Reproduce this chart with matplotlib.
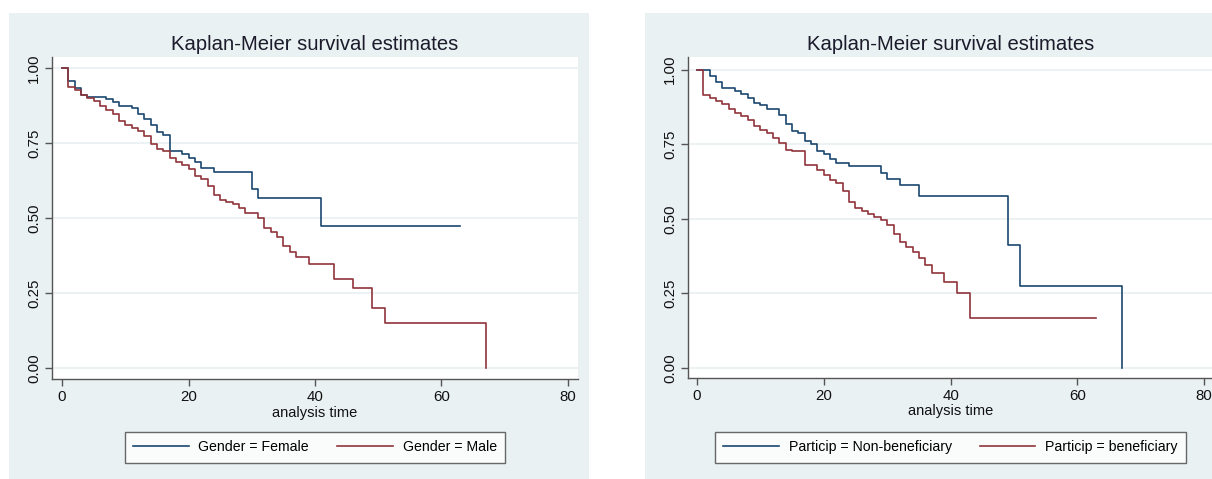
import matplotlib.pyplot as plt
from matplotlib.patches import Rectangle

# Gender panel
fem_t = [0, 1, 2, 3, 4, 7, 8, 9, 11, 12, 13, 14, 15, 16, 17, 19, 20, 21, 22, 24, 30, 31, 41, 63]
fem_s = [1.0, 0.957, 0.935, 0.912, 0.904, 0.897, 0.886, 0.875, 0.866, 0.846, 0.829, 0.81,
         0.788, 0.777, 0.724, 0.713, 0.70, 0.686, 0.668, 0.653, 0.597, 0.569, 0.475, 0.475]
male_t = [0, 1, 2, 3, 4, 5, 6, 7, 8, 9, 10, 11, 12, 13, 14, 15, 16, 17, 18, 19, 20, 21, 22,
          23, 24, 25, 26, 27, 28, 29, 31, 32, 33, 34, 35, 36, 37, 39, 43, 46, 49, 51, 67]
male_s = [1.0, 0.936, 0.928, 0.912, 0.902, 0.89, 0.875, 0.862, 0.847, 0.825, 0.81, 0.799,
          0.79, 0.774, 0.746, 0.73, 0.724, 0.70, 0.689, 0.678, 0.664, 0.64, 0.632, 0.606,
          0.578, 0.561, 0.553, 0.546, 0.533, 0.518, 0.50, 0.468, 0.453, 0.438, 0.407, 0.389,
          0.37, 0.348, 0.298, 0.267, 0.203, 0.151, 0.0]

# Participation panel
nonb_t = [0, 2, 3, 4, 6, 7, 8, 9, 10, 11, 13, 14, 15, 16, 17, 18, 19, 20, 21, 22, 24, 29,
          30, 32, 35, 49, 51, 67]
nonb_s = [1.0, 0.979, 0.958, 0.938, 0.928, 0.917, 0.906, 0.889, 0.88, 0.869, 0.847, 0.817,
          0.794, 0.787, 0.76, 0.75, 0.727, 0.716, 0.699, 0.688, 0.676, 0.655, 0.634, 0.612,
          0.578, 0.413, 0.274, 0.0]
ben_t = [0, 1, 2, 3, 4, 5, 6, 7, 8, 9, 10, 11, 12, 13, 14, 15, 17, 19, 20, 21, 22, 23, 24,
         25, 26, 27, 28, 29, 30, 31, 32, 33, 34, 35, 36, 37, 39, 41, 43, 63]
ben_s = [1.0, 0.916, 0.906, 0.895, 0.883, 0.869, 0.854, 0.844, 0.832, 0.81, 0.799, 0.788,
         0.771, 0.754, 0.731, 0.726, 0.679, 0.665, 0.648, 0.629, 0.62, 0.592, 0.556, 0.536,
         0.526, 0.517, 0.506, 0.497, 0.478, 0.45, 0.423, 0.405, 0.39, 0.369, 0.346, 0.318,
         0.287, 0.25, 0.168, 0.168]

x_ticks = [0, 20, 40, 60, 80]
y_ticks = [0.0, 0.25, 0.5, 0.75, 1.0]
y_labels = ['0.00', '0.25', '0.50', '0.75', '1.00']

plt.rcParams['font.family'] = ['Liberation Sans', 'DejaVu Sans']

W, H = 1212, 479
BG = '#eaf1f3'
NAVY = '#1a476f'
MAROON = '#90353b'

fig = plt.figure(figsize=(W / 100, H / 100), dpi=100)

# graph region backgrounds (behind the axes)
for x0, w in [(9, 580), (645, 600)]:
    fig.add_artist(Rectangle((x0 / W, 0), w / W, (H - 13) / H, transform=fig.transFigure,
                             facecolor=BG, edgecolor='none', zorder=-5))


def panel(x0, x1, top, bot, xlim, ylim, series, labels):
    ax = fig.add_axes([x0 / W, (H - bot) / H, (x1 - x0) / W, (bot - top) / H])
    ax.set_facecolor('white')
    (t1, s1), (t2, s2) = series
    l1, = ax.step(t1, s1, where='post', color=NAVY, lw=1.2, label=labels[0])
    l2, = ax.step(t2, s2, where='post', color=MAROON, lw=1.2, label=labels[1])
    ax.set_xlim(*xlim)
    ax.set_ylim(*ylim)
    ax.set_xticks(x_ticks)
    ax.set_yticks(y_ticks)
    ax.set_yticklabels(y_labels, rotation=90, va='center')
    ax.yaxis.grid(True, color=BG, lw=1.3)
    ax.set_axisbelow(True)
    for s in ['top', 'right']:
        ax.spines[s].set_visible(False)
    for s in ['left', 'bottom']:
        ax.spines[s].set_color('#555555')
        ax.spines[s].set_linewidth(1.0)
    ax.tick_params(length=5, width=1, color='#555555', labelsize=10.8, labelcolor='#111111', pad=3)
    ax.set_xlabel('analysis time', fontsize=10.5, color='#111111', labelpad=1)
    cx = (x0 + x1) / 2 / W
    fig.text(cx, (H - 44) / H, 'Kaplan-Meier survival estimates', ha='center', va='center',
             fontsize=14.6, color='#1b1b2b')
    leg = ax.legend(handles=[l1, l2], loc='center', bbox_to_anchor=(cx, (H - 447) / H),
                    bbox_transform=fig.transFigure, ncol=2, frameon=True, fancybox=False,
                    edgecolor='#444444', fontsize=10.2, handlelength=3.9, columnspacing=2.0,
                    handletextpad=0.7, borderpad=0.6)
    leg.get_frame().set_linewidth(1.0)
    return ax


panel(52, 578, 57, 379, (-1.6, 81.6), (-0.035, 1.037),
      [(fem_t, fem_s), (male_t, male_s)], ['Gender = Female', 'Gender = Male'])
panel(688, 1213, 57, 378, (-1.42, 81.4), (-0.033, 1.042),
      [(nonb_t, nonb_s), (ben_t, ben_s)],
      ['Particip = Non-beneficiary', 'Particip = beneficiary'])

fig.savefig('out.png', dpi=100, facecolor='white')
